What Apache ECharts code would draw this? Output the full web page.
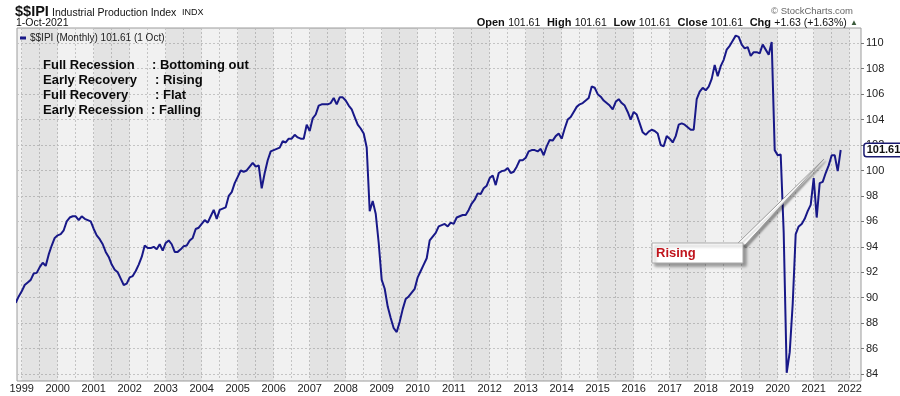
<!DOCTYPE html>
<html><head><meta charset="utf-8">
<script src="https://cdn.jsdelivr.net/npm/echarts@6/dist/echarts.min.js"></script>
<style>html,body{margin:0;padding:0;background:#fff}#c{width:900px;height:396px}</style>
</head><body><div id="c"></div>
<script>
const FONT = '"Liberation Sans", Arial, sans-serif';

// Industrial Production Index, monthly values
const firstYear = 1998, firstMonth = 11;           // series begins Nov 1998
const ipi1998 = [89.6, 90.1];
const ipi1999 = [90.5, 91.0, 91.2, 91.4, 91.9, 91.95, 92.4, 92.75, 92.5, 93.4, 94.1, 94.7];
const ipi2000 = [94.9, 95.0, 95.3, 96.0, 96.3, 96.4, 96.4, 96.1, 96.4, 96.2, 96.1, 96.0];
const ipi2001 = [95.4, 94.9, 94.6, 94.2, 93.6, 93.2, 92.6, 92.2, 92.0, 91.5, 91.0, 91.1];
const ipi2002 = [91.6, 91.7, 92.1, 92.6, 93.2, 94.1, 93.9, 93.9, 94.0, 93.8, 94.2, 93.7];
const ipi2003 = [94.3, 94.5, 94.2, 93.6, 93.6, 93.8, 94.05, 94.1, 94.5, 94.7, 95.4, 95.5];
const ipi2004 = [95.8, 96.1, 95.9, 96.4, 96.9, 96.2, 96.9, 97.0, 97.1, 98.0, 98.3, 99.0];
const ipi2005 = [99.5, 100.0, 99.9, 100.0, 100.3, 100.6, 100.3, 100.4, 98.6, 99.8, 100.8, 101.5];
const ipi2006 = [101.6, 101.7, 101.8, 102.3, 102.2, 102.5, 102.5, 102.8, 102.6, 102.5, 102.5, 103.6];
const ipi2007 = [103.1, 104.1, 104.4, 105.1, 105.2, 105.2, 105.2, 105.3, 105.7, 105.2, 105.75, 105.75];
const ipi2008 = [105.5, 105.1, 104.8, 104.2, 103.6, 103.3, 102.9, 101.8, 96.8, 97.6, 96.6, 94.3];
const ipi2009 = [91.4, 90.7, 89.3, 88.4, 87.6, 87.3, 88.1, 89.1, 89.9, 90.1, 90.4, 90.7];
const ipi2010 = [91.6, 92.1, 92.6, 93.1, 94.5, 94.8, 95.1, 95.6, 95.7, 95.8, 95.6, 95.9];
const ipi2011 = [95.8, 96.3, 96.4, 96.5, 96.5, 96.9, 97.4, 97.7, 98.2, 98.15, 98.6, 98.8];
const ipi2012 = [99.4, 99.6, 98.85, 99.8, 99.95, 100.0, 100.2, 99.8, 99.9, 100.3, 100.8, 100.8];
const ipi2013 = [101.0, 101.5, 101.6, 101.6, 101.5, 101.7, 101.2, 101.9, 102.4, 102.35, 102.7, 102.9];
const ipi2014 = [102.5, 103.3, 104.0, 104.2, 104.6, 105.0, 105.2, 105.3, 105.5, 105.7, 106.6, 106.5];
const ipi2015 = [106.0, 105.8, 105.5, 105.3, 105.1, 104.8, 105.4, 105.6, 105.3, 105.1, 104.6, 104.0];
const ipi2016 = [104.6, 104.4, 103.7, 103.0, 102.8, 103.05, 103.2, 103.1, 102.9, 102.0, 101.9, 102.7];
const ipi2017 = [102.5, 102.2, 102.7, 103.6, 103.7, 103.6, 103.4, 103.2, 103.2, 105.6, 106.2, 106.5];
const ipi2018 = [106.3, 106.6, 107.2, 108.3, 107.4, 108.2, 108.7, 109.5, 109.8, 110.2, 110.6, 110.5];
const ipi2019 = [109.9, 109.6, 109.7, 109.0, 109.3, 109.3, 109.2, 109.9, 109.5, 109.1, 110.1, 101.6];
const ipi2020 = [101.2, 101.25, 95.1, 84.1, 85.7, 89.5, 95.0, 95.6, 95.8, 96.2, 96.8, 97.3];
const ipi2021 = [99.4, 96.3, 99.0, 99.1, 99.8, 100.4, 101.2, 101.2, 99.95, 101.61];

const lastValue = '101.61';
const yTicks = [84, 86, 88, 90, 92, 94, 96, 98, 100, 102, 104, 106, 108, 110];
const yearTicks = [1999,2000,2001,2002,2003,2004,2005,2006,2007,2008,2009,2010,2011,2012,2013,2014,2015,2016,2017,2018,2019,2020,2021,2022];
const notes = [
  ['Full Recession', ': Bottoming out'],
  ['Early Recovery', ': Rising'],
  ['Full Recovery', ': Flat'],
  ['Early Recession', ': Falling']
];
const calloutText = 'Rising';

// build [x, value] pairs, x in fractional years
const allValues = [].concat(ipi1998, ipi1999, ipi2000, ipi2001, ipi2002, ipi2003, ipi2004, ipi2005,
  ipi2006, ipi2007, ipi2008, ipi2009, ipi2010, ipi2011, ipi2012, ipi2013, ipi2014, ipi2015,
  ipi2016, ipi2017, ipi2018, ipi2019, ipi2020, ipi2021);
const seriesData = allValues.map((v, i) => [firstYear + (firstMonth - 1 + i) / 12, v]);

const halfYearLines = [];
yearTicks.forEach(y => { halfYearLines.push(y); halfYearLines.push(y + 0.5); });
const bands = yearTicks.filter(y => y % 2 === 1).map(y => [{ xAxis: y }, { xAxis: y + 1 }]);

const chart = echarts.init(document.getElementById('c'), null, { renderer: 'canvas' });

function txt(text, x, y, font, fill, align) {
  return { type: 'text', z: 50, style: { text, x, y, font: font + ' ' + FONT, fill: fill || '#111', align: align || 'left', verticalAlign: 'middle', textAlign: align || 'left', textVerticalAlign: 'middle' } };
}

const noteEls = [];
notes.forEach((n, i) => {
  const y = 65 + i * 15.2;
  const cx = [152, 155, 155, 151][i];
  noteEls.push(txt(n[0], 43, y, 'bold 13px', '#0a0a0a'));
  noteEls.push(txt(n[1], cx, y, 'bold 13px', '#0a0a0a'));
});

const option = {
  animation: false,
  backgroundColor: '#ffffff',
  textStyle: { fontFamily: FONT },
  grid: { left: 17, right: 39, top: 28, bottom: 15, show: true, backgroundColor: '#f1f1f1', borderColor: '#9c9c9c', borderWidth: 1 },
  legend: {
    show: true, left: 15, top: 28, itemWidth: 6, itemHeight: 3, icon: 'rect', itemGap: 4,
    formatter: '$$IPI (Monthly) 101.61 (1 Oct)',
    textStyle: { fontSize: 10, color: '#222', fontFamily: FONT, padding: [0, 0, 0, -1] },
    data: ['$$IPI']
  },
  xAxis: {
    type: 'value', min: 1998.869, max: 2022.314,
    axisLine: { show: false },
    axisTick: { show: false, customValues: halfYearLines },
    axisLabel: { customValues: yearTicks, formatter: v => String(Math.round(v)), fontSize: 11, color: '#222', margin: 2, fontFamily: FONT },
    splitLine: { show: true, lineStyle: { color: '#c4c4c4', type: [2, 2], width: 1 } }
  },
  yAxis: {
    type: 'value', position: 'right', min: 83.45, max: 111.2,
    axisLine: { show: false },
    axisTick: { show: true, length: 3, inside: false, lineStyle: { color: '#777' }, customValues: yTicks },
    axisLabel: { customValues: yTicks, fontSize: 11, color: '#222', margin: 5, fontFamily: FONT },
    splitLine: { show: true, lineStyle: { color: '#c4c4c4', type: [2, 2], width: 1 } }
  },
  series: [{
    name: '$$IPI', type: 'line', data: seriesData, showSymbol: false, symbol: 'none',
    lineStyle: { color: '#181888', width: 2 }, itemStyle: { color: '#181888' },
    z: 5,
    endLabel: {
      show: true, formatter: lastValue, distance: 24, fontSize: 11, fontWeight: 'bold', color: '#111',
      backgroundColor: '#fff', borderColor: '#1a1a70', borderWidth: 1.5, padding: [1, 2, 0, 2], borderRadius: 2, fontFamily: FONT
    },
    markArea: { silent: true, itemStyle: { color: 'rgba(0,0,0,0.055)' }, data: bands }
  }],
  graphic: [
    txt('$$IPI', 15, 12, 'bold 14.5px'),
    txt('Industrial Production Index', 52, 13, '10.5px'),
    txt('INDX', 182, 13, '9px'),
    txt('1-Oct-2021', 16, 23, '10.5px'),
    txt('\u00a9 StockCharts.com', 853, 11, '9.5px', '#666', 'right'),
    { type: 'text', z: 50, style: {
      text: '{b|Open} {v|101.61}  {b|High} {v|101.61}  {b|Low} {v|101.61}  {b|Close} {v|101.61}  {b|Chg} {v|+1.63 (+1.63%)} {t|\u25b2}',
      x: 858, y: 23, align: 'right', verticalAlign: 'middle', textAlign: 'right', textVerticalAlign: 'middle',
      rich: {
        b: { font: 'bold 11px ' + FONT, fill: '#111' },
        v: { font: '10.5px ' + FONT, fill: '#111' },
        t: { font: '8px ' + FONT, fill: '#3a5a3a' }
      } } },
    ...noteEls,
    { type: 'polygon', z: 40, shape: { points: [[736, 245], [745, 245], [824, 159]] },
      style: { fill: '#ffffff', stroke: '#9a9a9a', lineWidth: 1, shadowBlur: 2, shadowOffsetX: 2, shadowOffsetY: 2, shadowColor: 'rgba(0,0,0,0.35)' } },
    { type: 'rect', z: 41, shape: { x: 652, y: 243, width: 91, height: 20 },
      style: { fill: '#ffffff', stroke: '#aaaaaa', lineWidth: 1, shadowBlur: 3, shadowOffsetX: 3, shadowOffsetY: 3, shadowColor: 'rgba(0,0,0,0.35)' } },
    { type: 'text', z: 42, style: { text: calloutText, x: 656, y: 253, font: 'bold 13px ' + FONT, fill: '#c0141c', align: 'left', verticalAlign: 'middle', textAlign: 'left', textVerticalAlign: 'middle' } }
  ]
};
chart.setOption(option);
</script>
</body></html>
